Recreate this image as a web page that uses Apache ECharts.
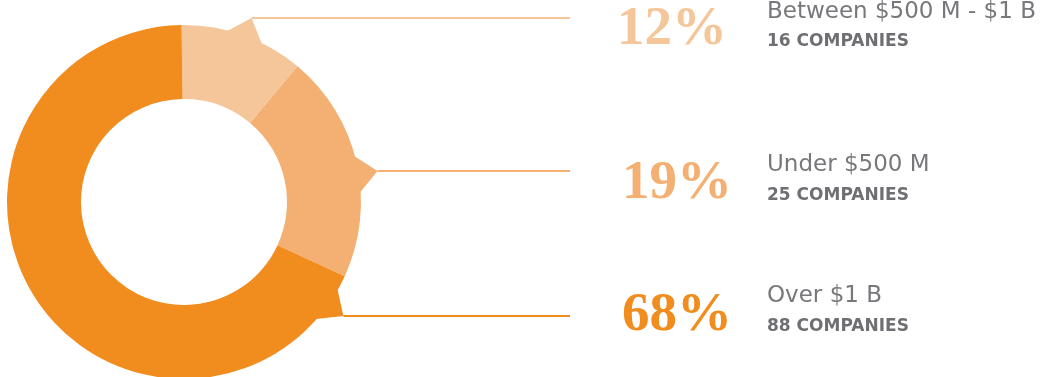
<!DOCTYPE html>
<html>
<head>
<meta charset="utf-8">
<script src="https://cdn.jsdelivr.net/npm/echarts@6/dist/echarts.min.js"></script>
<style>
html,body{margin:0;padding:0;background:#fff;}
#chart{width:1040px;height:377px;}
</style>
</head>
<body>
<div id="chart"></div>
<script>
// ---- data ----
const categories = ['Between $500 M - $1 B', 'Under $500 M', 'Over $1 B'];
const shares = [11.3, 20.8, 67.9];           // slice sizes (percent of circle)
const percentLabels = ['12%', '19%', '68%'];
const companyLabels = ['16 COMPANIES', '25 COMPANIES', '88 COMPANIES'];

// ---- styles / layout ----
const colors = ['#F5C699', '#F3B072', '#F18D1F'];
const center = [184, 202];
const radii = [103, 177];
const tipR = 196;
const rowLineY = [18, 171, 316];
const lineEndX = 570;
const pctPos = [[617, 30], [622, 184], [622, 316]];
const capPos = [[767, 12], [767, 165], [767, 296]];
const subPos = [[767, 42], [767, 196], [767, 327]];

const chart = echarts.init(document.getElementById('chart'));

const graphics = [];
rowLineY.forEach((ly, i) => {
  const dy = ly - center[1];
  const dx = Math.sqrt(tipR * tipR - dy * dy);
  const tip = [center[0] + dx, ly];
  const ang = Math.atan2(dy, dx);
  const half = 6.5 * Math.PI / 180;
  const r0 = radii[1] - 2;
  const b1 = [center[0] + r0 * Math.cos(ang - half), center[1] + r0 * Math.sin(ang - half)];
  const b2 = [center[0] + r0 * Math.cos(ang + half), center[1] + r0 * Math.sin(ang + half)];
  graphics.push({
    type: 'polygon', shape: { points: [b1, tip, b2] },
    style: { fill: colors[i] }, z: 10
  });
  graphics.push({
    type: 'line', shape: { x1: tip[0], y1: ly, x2: lineEndX, y2: ly },
    style: { stroke: colors[i], lineWidth: 2 }, z: 10
  });
  graphics.push({
    type: 'text', x: pctPos[i][0], y: pctPos[i][1],
    style: { text: percentLabels[i], fill: colors[i], font: 'bold 55px "Liberation Serif"', verticalAlign: 'middle', align: 'left' }
  });
  graphics.push({
    type: 'text', x: capPos[i][0], y: capPos[i][1],
    style: { text: categories[i], fill: '#77787B', font: 'normal 23px "DejaVu Sans"', verticalAlign: 'middle', align: 'left' }
  });
  graphics.push({
    type: 'text', x: subPos[i][0], y: subPos[i][1],
    style: { text: companyLabels[i], fill: '#6F6F73', font: 'bold 17px "DejaVu Sans"', verticalAlign: 'middle', align: 'left' }
  });
});

chart.setOption({
  animation: false,
  series: [{
    type: 'pie',
    center: center,
    radius: radii,
    startAngle: 90.8,
    clockwise: true,
    label: { show: false },
    labelLine: { show: false },
    emphasis: { disabled: true },
    itemStyle: { borderWidth: 0 },
    data: categories.map((c, i) => ({ name: c, value: shares[i], itemStyle: { color: colors[i] } }))
  }],
  graphic: graphics
});
</script>
</body>
</html>
